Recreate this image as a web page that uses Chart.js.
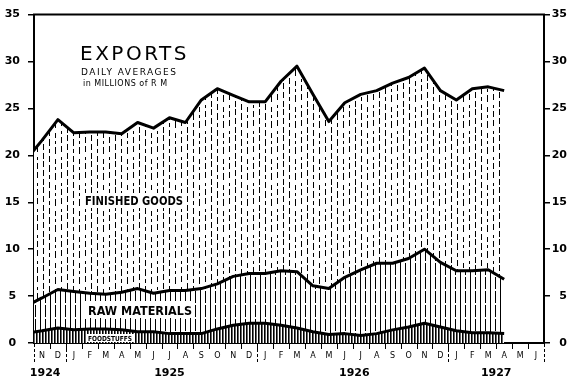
<!DOCTYPE html>
<html><head><meta charset="utf-8">
<script src="https://cdn.jsdelivr.net/npm/chart.js@4"></script>
<style>html,body{margin:0;padding:0;background:#fff}#wrap{width:576px;height:379px}</style>
</head><body><div id="wrap"><canvas id="c" width="576" height="379"></canvas></div>
<script>
// ---- data ----
const monthLabels = ['N','D','J','F','M','A','M','J','J','A','S','O','N','D','J','F','M','A','M','J','J','A','S','O','N','D','J','F','M','A','M','J'];
const yearLabels = ['1924','1925','1926','1927'];
const yTicks = [0,5,10,15,20,25,30,35];
// series start at Oct 1924 (cut off by the frame) and run to Apr 1927
const firstMonthIndex = -1;
const totalExports   = [19.5,21.6,23.8,22.4,22.5,22.5,22.3,23.5,22.9,24.0,23.5,25.9,27.1,26.4,25.7,25.7,27.9,29.5,26.5,23.6,25.6,26.5,26.9,27.7,28.3,29.3,26.9,25.9,27.1,27.3,26.9];
const rawMaterialsTop= [3.95,4.8,5.7,5.5,5.3,5.2,5.4,5.8,5.3,5.6,5.6,5.8,6.3,7.1,7.4,7.4,7.7,7.6,6.1,5.8,7.0,7.8,8.5,8.5,9.0,10.0,8.6,7.7,7.7,7.8,6.8];
const foodstuffs     = [1.05,1.3,1.6,1.4,1.5,1.5,1.4,1.2,1.2,1.0,1.0,1.0,1.5,1.9,2.1,2.1,1.9,1.6,1.2,0.9,1.0,0.8,1.0,1.4,1.7,2.1,1.7,1.3,1.1,1.1,1.0];

// ---- layout / style ----
const yearLabelAt = [0.2, 8, 19.6, 28.5];
const FONT = '"DejaVu Sans"';
const canvas = document.getElementById('c');
const mainCtx = canvas.getContext('2d');

function makePattern(w, h, draw) {
  const c = document.createElement('canvas');
  c.width = w; c.height = h;
  const g = c.getContext('2d');
  g.fillStyle = '#fff'; g.fillRect(0, 0, w, h);
  g.fillStyle = '#000';
  draw(g);
  return mainCtx.createPattern(c, 'repeat');
}
const finishedPat = makePattern(24, 26, g => {
  const cols = [
    [1, [[0,6],[9,16],[19,23]]],
    [7, [[3,8],[11,14],[17,24]]],
    [13,[[1,4],[7,13],[16,22]]],
    [19,[[0,3],[5,11],[14,20],[23,26]]]
  ];
  cols.forEach(([x, segs]) => segs.forEach(([a,b]) => g.fillRect(x, a, 1, b - a)));
});
const rawPat = makePattern(10, 14, g => {
  g.fillRect(0, 0, 1, 14);
  g.fillRect(5, 0, 1, 9);
  g.fillRect(5, 11, 1, 3);
});
const foodPat = makePattern(3, 1, g => {
  g.fillRect(0, 0, 1, 1);
  g.fillStyle = '#666'; g.fillRect(1, 0, 1, 1);
});

const toPts = arr => arr.map((v, i) => ({x: firstMonthIndex + i, y: v}));

const lineStyle = {borderColor:'#000', borderWidth:3, pointRadius:0, tension:0, clip:0, borderJoinStyle:'round'};

const deco = {
  id: 'deco',
  beforeDraw(chart) {
    const c = chart.ctx;
    c.save(); c.fillStyle = '#fff'; c.fillRect(0, 0, chart.width, chart.height); c.restore();
  },
  afterDraw(chart) {
    const c = chart.ctx, a = chart.chartArea, x = chart.scales.x;
    c.save();
    c.strokeStyle = '#000'; c.fillStyle = '#000';
    // top frame
    c.lineWidth = 2;
    c.beginPath(); c.moveTo(a.left - 1, a.top); c.lineTo(a.right + 1, a.top); c.stroke();
    // month boundary ticks
    c.lineWidth = 1;
    for (let i = 1; i < monthLabels.length; i++) {
      const px = Math.round(x.getPixelForValue(i - 0.5)) + 0.5;
      c.beginPath(); c.moveTo(px, a.bottom + 1); c.lineTo(px, a.bottom + 6); c.stroke();
    }
    // year separators (dashed)
    c.setLineDash([3, 2]);
    const seps = [-0.5, monthLabels.length - 0.5];
    for (let i = 1; i < monthLabels.length; i++) if (monthLabels[i] === 'J' && monthLabels[i-1] === 'D') seps.push(i - 0.5);
    seps.forEach(v => {
      const px = Math.round(x.getPixelForValue(v)) + 0.5;
      c.beginPath(); c.moveTo(px, a.bottom + 1); c.lineTo(px, a.bottom + 20); c.stroke();
    });
    c.setLineDash([]);
    // year labels
    c.font = 'bold 11px ' + FONT; c.textAlign = 'center'; c.textBaseline = 'alphabetic';
    yearLabels.forEach((t, i) => c.fillText(t, x.getPixelForValue(yearLabelAt[i]), 376));
    // title block
    c.textAlign = 'left';
    c.font = '20px ' + FONT; c.letterSpacing = '2.5px';
    c.fillText('EXPORTS', 80, 60, 110);
    c.font = '9px ' + FONT; c.letterSpacing = '1.5px';
    c.fillText('DAILY AVERAGES', 81, 75, 97);
    c.font = '8px ' + FONT; c.letterSpacing = '0.5px';
    c.fillText('in MILLIONS of R M', 83, 86, 85);
    c.letterSpacing = '0px';
    // area labels on white boxes
    const boxLabel = (t, font, bx, by, bw, bh, tx, ty, mw) => {
      c.fillStyle = '#fff'; c.fillRect(bx, by, bw, bh);
      c.fillStyle = '#000'; c.font = font; c.fillText(t, tx, ty, mw);
    };
    boxLabel('FINISHED GOODS', 'bold 12px ' + FONT, 82, 193, 104, 15, 85, 205, 98);
    boxLabel('RAW MATERIALS', 'bold 12px ' + FONT, 84, 301, 111, 17, 88, 315, 104);
    boxLabel('FOODSTUFFS', 'bold 7px ' + FONT, 86, 334, 48, 8, 88, 341, 44);
    c.restore();
  }
};

new Chart(canvas, {
  type: 'line',
  data: {
    datasets: [
      {label: 'Foodstuffs', data: toPts(foodstuffs), fill: 'origin', backgroundColor: foodPat, ...lineStyle},
      {label: 'Raw materials', data: toPts(rawMaterialsTop), fill: '-1', backgroundColor: rawPat, ...lineStyle},
      {label: 'Finished goods', data: toPts(totalExports), fill: '-1', backgroundColor: finishedPat, ...lineStyle}
    ]
  },
  options: {
    responsive: false,
    animation: false,
    events: [],
    layout: {padding: {top: 10, right: 9, left: 0, bottom: 0}},
    plugins: {legend: {display: false}, tooltip: {enabled: false}},
    scales: {
      x: {
        type: 'linear', min: -0.5, max: monthLabels.length - 0.5,
        afterBuildTicks: s => { s.ticks = monthLabels.map((_, i) => ({value: i})); },
        afterFit: s => { s.height = 36; },
        ticks: {autoSkip: false, maxRotation: 0, minRotation: 0, padding: 8, color: '#000',
          font: {family: 'DejaVu Sans', size: 8}, callback: v => monthLabels[v] ?? ''},
        grid: {display: false, drawTicks: false},
        border: {display: true, color: '#000', width: 2}
      },
      y: {
        position: 'left', min: 0, max: 35,
        afterBuildTicks: s => { s.ticks = yTicks.map(v => ({value: v})); },
        afterFit: s => { s.width = 34; },
        ticks: {crossAlign: 'center', padding: 8, color: '#000', font: {family: 'DejaVu Sans', size: 11, weight: 'bold'}},
        grid: {drawOnChartArea: false, drawTicks: true, tickLength: 6, color: '#000', lineWidth: 1.5},
        border: {display: true, color: '#000', width: 2}
      },
      y2: {
        position: 'right', min: 0, max: 35,
        afterBuildTicks: s => { s.ticks = yTicks.map(v => ({value: v})); },
        afterFit: s => { s.width = 23; },
        ticks: {crossAlign: 'far', padding: 3, color: '#000', font: {family: 'DejaVu Sans', size: 11, weight: 'bold'}},
        grid: {drawOnChartArea: false, drawTicks: true, tickLength: 6, color: '#000', lineWidth: 1.5},
        border: {display: true, color: '#000', width: 2}
      }
    }
  },
  plugins: [deco]
});
</script>
</body></html>
